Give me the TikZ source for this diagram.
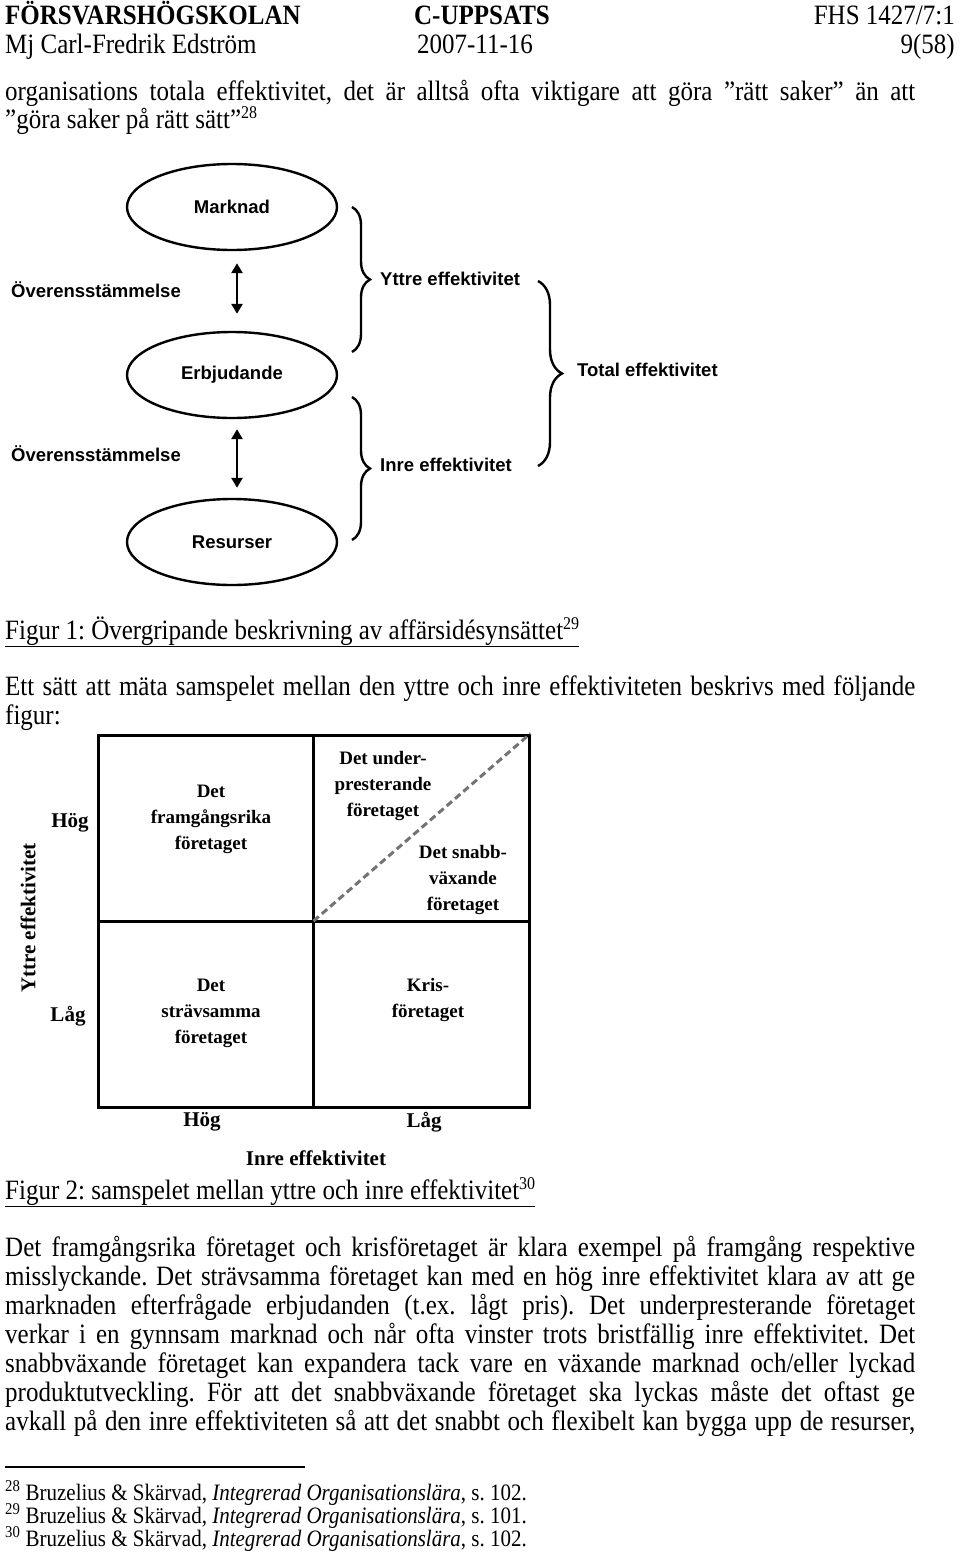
\documentclass[tikz,border=0pt]{standalone}
\usepackage{graphicx}
\usepackage{fontspec}
\setmainfont{Liberation Serif}
\newfontfamily\figsans{Liberation Sans}
\usetikzlibrary{shapes.geometric,arrows.meta,decorations.pathreplacing}
\frenchspacing
\newcommand\vs[1]{\scalebox{1}[1.12]{#1}}
\newcommand\jline[1]{\vs{\makebox[910pt][s]{#1}}}
\newcommand\fnmk[1]{\raisebox{0.34em}{\fontsize{16}{16}\selectfont #1}}
\begin{document}
\begin{tikzpicture}[x=1pt,y=-1pt,
  body/.style={anchor=base west,inner sep=0pt,font=\fontsize{25}{29}\selectfont},
  hdr/.style={inner sep=0pt,font=\fontsize{25}{29}\selectfont},
  fn/.style={anchor=base west,inner sep=0pt,font=\fontsize{21}{24}\selectfont},
  ell/.style={ellipse,draw,line width=2.4pt,minimum width=210pt,minimum height=86pt,inner sep=0pt,font=\figsans\bfseries\fontsize{18.5}{22}\selectfont},
  lbl/.style={inner sep=0pt,font=\figsans\bfseries\fontsize{18.5}{22}\selectfont},
  dbl/.style={{Triangle[width=11pt,length=10pt]}-{Triangle[width=11pt,length=10pt]},line width=2.5pt},
  brc/.style={decorate,decoration={brace,amplitude=#1},line width=2.4pt},
  quad/.style={inner sep=0pt,align=center,font=\bfseries\fontsize{19}{26}\selectfont},
  axl/.style={inner sep=0pt,font=\bfseries\fontsize{21}{24}\selectfont},
  frame/.style={draw,line width=3pt}]
\useasboundingbox (0,0) rectangle (960,1555);
% header
\node[hdr,anchor=base west] (h1) at (5,25) {\vs{\textbf{FÖRSVARSHÖGSKOLAN}}};
\node[hdr,anchor=base] (h2) at (482,25) {\vs{\textbf{C-UPPSATS}}};
\node[hdr,anchor=base east] (h3) at (955,25) {\vs{FHS 1427/7:1}};
\node[hdr,anchor=base west] (h4) at (5,54) {\vs{Mj Carl-Fredrik Edström}};
\node[hdr,anchor=base] (h5) at (475,54) {\vs{2007-11-16}};
\node[hdr,anchor=base east] (h6) at (955,54) {\vs{9(58)}};
% first paragraph
\node[body] (p1a) at (5,100) {\jline{organisations totala effektivitet, det är alltså ofta viktigare att göra ”rätt saker” än att}};
\node[body] (p1b) at (5,128) {\vs{”göra saker på rätt sätt”\fnmk{28}}};
% figure 1
\node[ell] (mk) at (232,207) {Marknad};
\node[ell] (eb) at (232,375) {Erbjudande};
\node[ell] (rs) at (232,542) {Resurser};
\draw[dbl] ([xshift=5pt,yshift=-12pt]mk.south) -- ([xshift=5pt,yshift=17pt]eb.north);
\draw[dbl] ([xshift=5pt,yshift=-10pt]eb.south) -- ([xshift=5pt,yshift=10pt]rs.north);
\node[lbl] (o1) at (96,290) {Överensstämmelse};
\node[lbl] (o2) at (96,454) {Överensstämmelse};
\coordinate (b1t) at (352,207); \coordinate (b1b) at (352,352);
\coordinate (b2t) at (352,397); \coordinate (b2b) at (352,540);
\coordinate (b3t) at (538,281); \coordinate (b3b) at (538,466);
\draw[brc=18pt] (b1t) -- (b1b);
\draw[brc=18pt] (b2t) -- (b2b);
\draw[brc=24pt] (b3t) -- (b3b);
\node[lbl,anchor=west] (ye) at (380,279) {Yttre effektivitet};
\node[lbl,anchor=west] (ie) at (380,465) {Inre effektivitet};
\node[lbl,anchor=west] (te) at (577,370) {Total effektivitet};
% caption 1 and paragraph
\node[body] (c1) at (5,639) {\vs{\underline{Figur 1: Övergripande beskrivning av affärsidésynsättet\fnmk{29}}}};
\node[body] (p2a) at (5,695) {\jline{Ett sätt att mäta samspelet mellan den yttre och inre effektiviteten beskrivs med följande}};
\node[body] (p2b) at (5,724) {\vs{figur:}};
% figure 2
\node[frame,minimum width=431pt,minimum height=372pt,inner sep=0pt] (grid) at (313.5,921) {};
\draw[line width=3pt] (grid.north) -- (grid.south);
\draw[line width=3pt] (grid.west) -- (grid.east);
\draw[line width=3pt,black!55,dash pattern=on 7pt off 4pt] (grid.center) -- (grid.north east);
\node[quad] (q1) at (211,819) {Det\\framgångsrika\\företaget};
\node[quad] (q2) at (383,786) {Det under-\\presterande\\företaget};
\node[quad] (q3) at (463,880) {Det snabb-\\växande\\företaget};
\node[quad] (q4) at (211,1013) {Det\\strävsamma\\företaget};
\node[quad] (q5) at (428,1000) {Kris-\\företaget};
\node[axl] (yh) at (70,823) {Hög};
\node[axl] (yl) at (68,1016) {Låg};
\node[axl,rotate=90] (ya) at (28,918) {Yttre effektivitet};
\node[axl] (xh) at (202,1122) {Hög};
\node[axl] (xl) at (424,1122) {Låg};
\node[axl] (xa) at (316,1158) {Inre effektivitet};
% caption 2 and paragraph
\node[body] (c2) at (5,1199) {\vs{\underline{Figur 2: samspelet mellan yttre och inre effektivitet\fnmk{30}}}};
\node[body] (p3a) at (5,1256) {\jline{Det framgångsrika företaget och krisföretaget är klara exempel på framgång respektive}};
\node[body] (p3b) at (5,1285) {\jline{misslyckande. Det strävsamma företaget kan med en hög inre effektivitet klara av att ge}};
\node[body] (p3c) at (5,1314) {\jline{marknaden efterfrågade erbjudanden (t.ex. lågt pris). Det underpresterande företaget}};
\node[body] (p3d) at (5,1343) {\jline{verkar i en gynnsam marknad och når ofta vinster trots bristfällig inre effektivitet. Det}};
\node[body] (p3e) at (5,1372) {\jline{snabbväxande företaget kan expandera tack vare en växande marknad och/eller lyckad}};
\node[body] (p3f) at (5,1401) {\jline{produktutveckling. För att det snabbväxande företaget ska lyckas måste det oftast ge}};
\node[body] (p3g) at (5,1430) {\jline{avkall på den inre effektiviteten så att det snabbt och flexibelt kan bygga upp de resurser,}};
% footnotes
\coordinate (fr1) at (5,1467); \coordinate (fr2) at (305,1467);
\draw[line width=1.2pt] (fr1) -- (fr2);
\node[fn] (f1) at (5,1500) {\vs{\textsuperscript{28} Bruzelius \& Skärvad, \textit{Integrerad Organisationslära}, s. 102.}};
\node[fn] (f2) at (5,1523) {\vs{\textsuperscript{29} Bruzelius \& Skärvad, \textit{Integrerad Organisationslära}, s. 101.}};
\node[fn] (f3) at (5,1546) {\vs{\textsuperscript{30} Bruzelius \& Skärvad, \textit{Integrerad Organisationslära}, s. 102.}};
\end{tikzpicture}
\end{document}
